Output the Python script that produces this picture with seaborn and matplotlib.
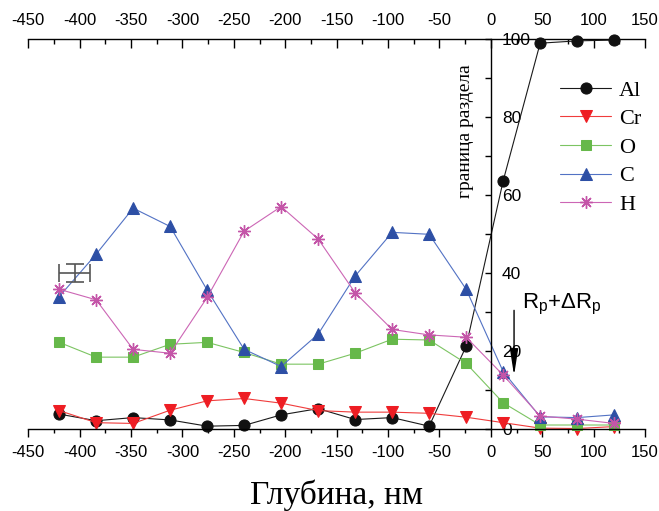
import numpy as np
import matplotlib
matplotlib.use("Agg")
import matplotlib.pyplot as plt
from matplotlib.ticker import MultipleLocator
import seaborn as sns

# --- DATI ---
depth = [-420, -384, -348, -312, -276, -240, -204, -168, -132, -96, -60, -24, 12, 48, 84, 120]

al = [3.9, 2.2, 3.0, 2.4, 0.8, 1.0, 3.7, 5.3, 2.5, 3.0, 0.8, 21.3, 63.7, 99.0, 99.6, 99.8]
cr = [4.8, 1.7, 1.5, 4.9, 7.3, 7.9, 6.7, 4.8, 4.4, 4.4, 4.1, 3.1, 1.7, 0.3, 0.2, 0.7]
o = [22.3, 18.5, 18.5, 21.8, 22.3, 19.7, 16.7, 16.7, 19.5, 23.1, 22.9, 16.9, 6.8, 1.1, 1.1, 1.1]
c = [34.0, 44.9, 56.7, 52.0, 35.7, 20.5, 16.1, 24.4, 39.3, 50.5, 50.0, 35.9, 14.8, 3.2, 3.0, 3.7]
h = [35.9, 33.2, 20.5, 19.5, 33.8, 50.8, 57.1, 48.8, 35.0, 25.6, 24.2, 23.6, 13.9, 3.4, 2.6, 1.5]

series_names = ["Al", "Cr", "O", "C", "H"]

# --- STILE ---
sns.set_style("ticks")
plt.rcParams["font.family"] = ["Liberation Sans", "DejaVu Sans"]
plt.rcParams["axes.unicode_minus"] = False
plt.rcParams["text.color"] = "black"
plt.rcParams["axes.edgecolor"] = "black"
plt.rcParams["xtick.color"] = "black"
plt.rcParams["ytick.color"] = "black"

fig = plt.figure(figsize=(6.59, 5.11), dpi=100)
ax = fig.add_axes([28.3 / 659, 1 - 429.3 / 511, (645 - 28.3) / 659, (429.3 - 39.3) / 511])

# colore linea / colore marker
styles = [
    dict(color="#1a1a1a", marker="o", markersize=8, markeredgecolor="#111111", markerfacecolor="#111111"),
    dict(color="#f03c3c", marker="v", markersize=9, markeredgecolor="#ee1d23", markerfacecolor="#ee1d23"),
    dict(color="#7cc462", marker="s", markersize=7, markeredgecolor="#66b84a", markerfacecolor="#66b84a"),
    dict(color="#5272c4", marker="^", markersize=9, markeredgecolor="#2d4fa5", markerfacecolor="#2d4fa5"),
    dict(color="#cc66b5", marker=(8, 2, 0), markersize=9, markeredgecolor="#c455a8", markeredgewidth=1.0),
]

for name, vals, st in zip(series_names, [al, cr, o, c, h], styles):
    sns.lineplot(x=depth, y=vals, ax=ax, label=name, linewidth=0.8, clip_on=False, **st)

ax.set_xlim(-450, 150)
ax.set_ylim(0, 100)
ax.set_xlabel("")
ax.set_ylabel("")

# asse verticale a x=0
ax.spines["left"].set_visible(False)
ax.spines["top"].set_visible(False)
ax.spines["right"].set_position(("data", 0))
ax.spines["right"].set_linewidth(1.0)
ax.spines["bottom"].set_linewidth(1.0)
ax.yaxis.tick_right()
ax.yaxis.set_major_locator(MultipleLocator(20))
ax.yaxis.set_minor_locator(MultipleLocator(10))
ax.tick_params(axis="y", which="both", direction="in", length=4.5, width=1.0, pad=8, labelsize=12.5)

ax.xaxis.set_major_locator(MultipleLocator(50))
ax.xaxis.set_minor_locator(MultipleLocator(25))
ax.tick_params(axis="x", which="major", direction="out", length=6, width=1.0, pad=5, labelsize=12)
ax.tick_params(axis="x", which="minor", direction="out", length=3, width=1.0)

# asse superiore
secax = ax.secondary_xaxis("top")
secax.xaxis.set_major_locator(MultipleLocator(50))
secax.xaxis.set_minor_locator(MultipleLocator(25))
secax.tick_params(axis="x", which="major", direction="in", length=6.5, width=1.0, pad=8, labelsize=12)
secax.tick_params(axis="x", which="minor", direction="in", length=3.4, width=1.0)
secax.spines["top"].set_linewidth(1.0)
secax.spines["top"].set_color("black")

# barra d'errore
ax.errorbar(-405, 40, xerr=15, yerr=2.3, fmt="none", ecolor="#555555",
            elinewidth=1.2, capsize=6.5, capthick=1.2)

# freccia Rp + dRp
ax.annotate("", xy=(22.6, 13.8), xytext=(22.6, 30.5),
            arrowprops=dict(arrowstyle="-|>,head_length=1.6,head_width=0.25",
                            color="black", lw=1.0, mutation_scale=10, shrinkA=0, shrinkB=0))
ax.text(30, 31, r"R$\mathregular{_p}$+ΔR$\mathregular{_p}$", fontsize=16, ha="left", va="baseline",
        family="Liberation Sans")

# etichette
ax.text(-25, 76.5, "граница раздела", rotation=90, ha="center", va="center",
        fontsize=14, family="Liberation Serif")
fig.text(336 / 659, 1 - 495 / 511, "Глубина, нм", ha="center", va="center",
         fontsize=24, family="Liberation Serif")

ax.legend(loc="upper left", bbox_to_anchor=(549 / 659, 1 - 69 / 511),
          bbox_transform=fig.transFigure, frameon=False, borderpad=0,
          handlelength=2.3, handletextpad=0.35, labelspacing=0.36,
          prop={"family": "Liberation Serif", "size": 16})

fig.savefig("out.png", dpi=100)
